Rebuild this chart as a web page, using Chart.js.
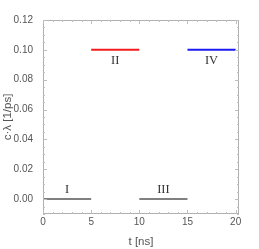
<!DOCTYPE html>
<html><head><meta charset="utf-8">
<script src="https://cdn.jsdelivr.net/npm/chart.js@4/dist/chart.umd.min.js"></script>
<style>html,body{margin:0;padding:0;background:#fff}#wrap{width:259px;height:249px}</style>
</head><body><div id="wrap"><canvas id="c" width="259" height="249"></canvas></div>
<script>
const segLabels = ['I', 'II', 'III', 'IV'];
const segStarts = [0, 5, 10, 15];
const segEnds = [5, 10, 15, 20];
const segValues = [0, 0.1, 0, 0.1];
const xTicks = [0, 5, 10, 15, 20];
const yTicks = [0.00, 0.02, 0.04, 0.06, 0.08, 0.10, 0.12];
const xMinorStep = 1;
const yMinorStep = 0.005;

const segColors = ['#808080', '#f21c1c', '#808080', '#1c1cf2'];
const labelOffsets = [-9, 11, -9, 11];

const datasets = segLabels.map((l, i) => ({
  label: l,
  data: [{x: segStarts[i], y: segValues[i]}, {x: segEnds[i], y: segValues[i]}],
  borderColor: segColors[i],
  borderWidth: 2,
  showLine: true,
  pointRadius: 0,
  fill: false
}));

const frame = {
  id: 'frame',
  afterDatasetsDraw(chart) {
    const ctx = chart.ctx, a = chart.chartArea;
    const xs = chart.scales.x, ys = chart.scales.y;
    ctx.save();
    ctx.strokeStyle = '#b0b0b0';
    ctx.lineWidth = 1;
    ctx.strokeRect(Math.round(a.left) + 0.5, Math.round(a.top) + 0.5, Math.round(a.right - a.left) - 1, Math.round(a.bottom - a.top) - 1);
    ctx.strokeStyle = '#bdbdbd';
    ctx.beginPath();
    const xmin = xTicks[0], xmax = xTicks[xTicks.length - 1];
    for (let v = xmin; v <= xmax + 1e-9; v += xMinorStep) {
      const major = xTicks.some(t => Math.abs(t - v) < 1e-9);
      const len = major ? 4 : 2;
      const px = Math.round(xs.getPixelForValue(v)) + 0.5;
      ctx.moveTo(px, a.bottom); ctx.lineTo(px, a.bottom - len);
      ctx.moveTo(px, a.top); ctx.lineTo(px, a.top + len);
    }
    for (let v = -0.01; v <= 0.12 + 1e-9; v += yMinorStep) {
      const major = yTicks.some(t => Math.abs(t - v) < 1e-9);
      const len = major ? 4 : 2;
      const py = Math.round(ys.getPixelForValue(v)) + 0.5;
      ctx.moveTo(a.left, py); ctx.lineTo(a.left + len, py);
      ctx.moveTo(a.right, py); ctx.lineTo(a.right - len, py);
    }
    ctx.stroke();
    ctx.fillStyle = '#333';
    ctx.font = '12.5px "Liberation Serif", serif';
    ctx.textAlign = 'center';
    ctx.textBaseline = 'middle';
    segLabels.forEach((l, i) => {
      const px = xs.getPixelForValue((segStarts[i] + segEnds[i]) / 2);
      const py = ys.getPixelForValue(segValues[i]) + labelOffsets[i];
      ctx.fillText(l, px, py);
    });
    ctx.restore();
  }
};

const sans = '"Liberation Sans", Arial, sans-serif';
new Chart(document.getElementById('c'), {
  type: 'scatter',
  data: {datasets},
  options: {
    responsive: false,
    animation: false,
    events: [],
    layout: {padding: {left: 0, right: 20, top: 20, bottom: 0}},
    plugins: {legend: {display: false}, tooltip: {enabled: false}},
    scales: {
      x: {
        type: 'linear', min: 0, max: 20.35,
        afterBuildTicks: s => { s.ticks = xTicks.map(v => ({value: v})); },
        afterFit: s => { s.height = 35; },
        grid: {display: true, drawOnChartArea: false, drawTicks: false},
        border: {display: false},
        ticks: {color: '#555', font: {family: sans, size: 10}, padding: 2, maxRotation: 0},
        title: {display: true, text: 't [ns]', color: '#555', font: {family: sans, size: 11.5}, padding: {top: 2, bottom: 0}}
      },
      y: {
        type: 'linear', min: -0.01, max: 0.12,
        afterBuildTicks: s => { s.ticks = yTicks.map(v => ({value: v})); },
        afterFit: s => { s.width = 43; },
        grid: {display: true, drawOnChartArea: false, drawTicks: false},
        border: {display: false},
        ticks: {color: '#555', font: {family: sans, size: 10}, padding: 10, callback: v => v.toFixed(2)},
        title: {display: true, text: 'c·λ [1/ps]', color: '#555', font: {family: sans, size: 11.5}, padding: {top: 1, bottom: 0}}
      }
    }
  },
  plugins: [frame]
});
</script></body></html>
